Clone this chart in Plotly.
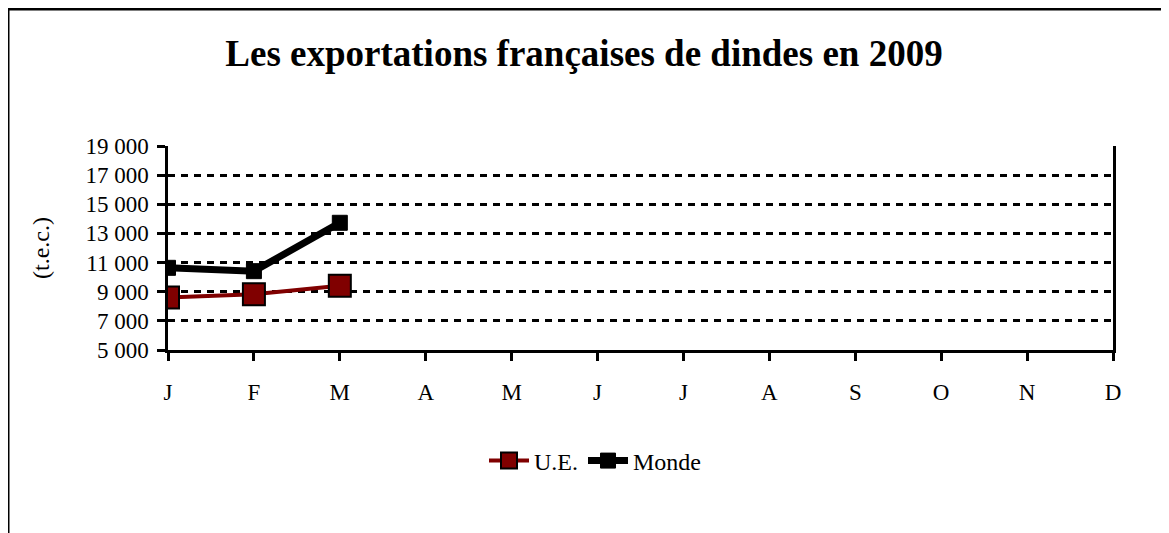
import plotly.graph_objects as go

months = ["J", "F", "M", "A", "M ", "J ", "J  ", "A ", "S", "O", "N", "D"]
month_labels = ["J", "F", "M", "A", "M", "J", "J", "A", "S", "O", "N", "D"]
ue_values = [8610, 8820, 9410]
monde_values = [10640, 10410, 13730]

FONT = "Liberation Serif, Times New Roman, serif"

fig = go.Figure()
fig.add_trace(go.Scatter(
    x=months[:len(ue_values)], y=ue_values, name="U.E.", mode="lines+markers",
    line=dict(color="#800000", width=4),
    marker=dict(symbol="square", size=22, color="#800000", line=dict(color="black", width=2)),
))
fig.add_trace(go.Scatter(
    x=months[:len(monde_values)], y=monde_values, name="Monde", mode="lines+markers",
    line=dict(color="black", width=7),
    marker=dict(symbol="square", size=15, color="black", line=dict(color="black", width=1)),
))

OFF = 8  # page body margin
W, H = 1169 - OFF, 533 - OFF
L, R, T, B = 168 - OFF, 56, 146 - OFF, 183
pw, ph = W - L - R, H - T - B
plot_bottom = T + ph  # in figure coords

fig.update_layout(
    width=W, height=H,
    margin=dict(l=L, r=R, t=T, b=B, autoexpand=False),
    paper_bgcolor="white", plot_bgcolor="white",
    font=dict(family=FONT, size=23, color="black"),
    separators=". ",
    title=dict(text="<b>Les exportations françaises de dindes en 2009</b>",
               x=(584 - OFF) / W, xref="container", xanchor="center",
               y=1 - (53 - OFF) / H, yref="container", yanchor="middle",
               font=dict(family=FONT, size=37, color="black")),
    showlegend=True,
    legend=dict(orientation="h", x=(595 - 168) / pw, y=(plot_bottom - (461 - OFF)) / ph,
                xanchor="center", yanchor="middle",
                font=dict(family=FONT, size=24, color="black"),
                bgcolor="rgba(0,0,0,0)", itemwidth=40, tracegroupgap=0),
    xaxis=dict(type="category", categoryorder="array", categoryarray=months,
               tickvals=months, ticktext=month_labels, automargin=False,
               range=[0, 11], showgrid=False, zeroline=False,
               showline=True, linecolor="black", linewidth=2.5,
               ticks="outside", ticklen=8, tickwidth=2.5, tickcolor="black",
               tickfont=dict(family=FONT, size=23, color="black"), ticklabelstandoff=12),
    yaxis=dict(range=[5000, 19000], tick0=5000, dtick=2000, tickformat=",d", automargin=False,
               showgrid=True, gridcolor="black", gridwidth=2.5, griddash="7px,6px",
               zeroline=False, showline=True, linecolor="black", linewidth=2.5, mirror=True,
               ticks="outside", ticklen=8, tickwidth=2.5, tickcolor="black",
               tickfont=dict(family=FONT, size=23, color="black"), ticklabelstandoff=4,
               title=dict(text="(t.e.c.)", font=dict(family=FONT, size=24, color="black"), standoff=30)),
    shapes=[dict(type="rect", xref="paper", yref="paper", layer="below",
                 x0=(8 - 168) / pw, x1=(1169 + 20 - 168) / pw,
                 y0=(350 - (533 + 20)) / ph, y1=(350 - 9) / ph,
                 line=dict(color="black", width=3), fillcolor="rgba(0,0,0,0)")],
)

fig.write_html("out.html")
